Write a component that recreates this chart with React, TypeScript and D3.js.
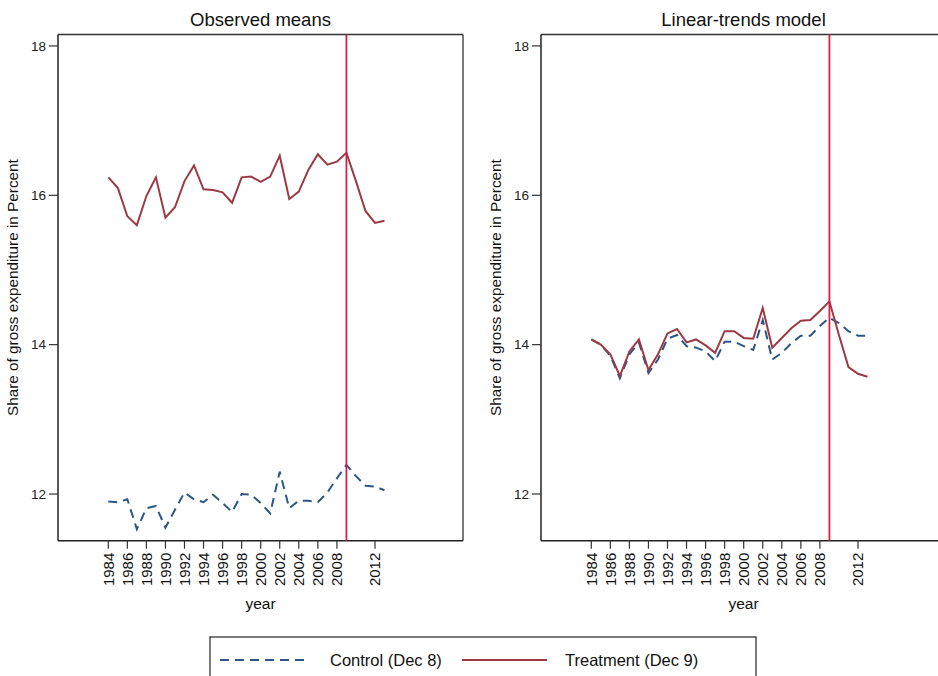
import React from "react";
import * as d3 from "d3";

const years = d3.range(1984, 2014);
const xTickYears = [1984, 1986, 1988, 1990, 1992, 1994, 1996, 1998, 2000, 2002, 2004, 2006, 2008, 2012];
const yTicks = [12, 14, 16, 18];
const policyYear = 2009;

const obsTreatment = [16.24, 16.10, 15.72, 15.60, 15.99, 16.24, 15.70, 15.84, 16.19, 16.40, 16.08, 16.07, 16.04, 15.90, 16.24, 16.25, 16.18, 16.25, 16.53, 15.95, 16.05, 16.34, 16.55, 16.41, 16.45, 16.57, 16.19, 15.79, 15.63, 15.66];
const obsControl = [11.90, 11.89, 11.93, 11.53, 11.81, 11.84, 11.55, 11.79, 12.02, 11.93, 11.89, 11.99, 11.88, 11.76, 12.00, 11.99, 11.88, 11.74, 12.30, 11.81, 11.91, 11.91, 11.89, 12.02, 12.21, 12.39, 12.24, 12.11, 12.10, 12.05];
const ltTreatment = [14.07, 14.00, 13.87, 13.58, 13.91, 14.07, 13.66, 13.87, 14.15, 14.21, 14.03, 14.07, 13.99, 13.89, 14.18, 14.18, 14.09, 14.08, 14.49, 13.96, 14.09, 14.22, 14.32, 14.33, 14.45, 14.58, 14.13, 13.70, 13.61, 13.57];
const ltControl = [14.07, 14.00, 13.85, 13.55, 13.87, 14.03, 13.62, 13.80, 14.08, 14.13, 13.98, 13.96, 13.91, 13.78, 14.04, 14.04, 13.98, 13.93, 14.33, 13.80, 13.89, 14.02, 14.12, 14.12, 14.25, 14.36, 14.29, 14.18, 14.12, 14.12];

const panelTitles = ["Observed means", "Linear-trends model"];
const yTitle = "Share of gross expenditure in Percent";
const xTitle = "year";
const legendLabels = ["Control (Dec 8)", "Treatment (Dec 9)"];

const FONT = "'Liberation Sans', Arial, Helvetica, sans-serif";
const C_TREAT = "#9c3a44";
const C_CTRL = "#2b5782";
const C_VLINE = "#d81f4c";

const TOP = 34.5;
const BOTTOM = 540.7;
const W = 405;

function Panel({ left, title, treat, ctrl }: { left: number; title: string; treat: number[]; ctrl: number[] }) {
  const x = d3.scaleLinear().domain([1978.72, 2021.24]).range([left, left + W]);
  const y = d3.scaleLinear().domain([11.375, 18.153]).range([BOTTOM, TOP]);
  const line = d3
    .line<number>()
    .x((_, i) => x(years[i]))
    .y((d) => y(d));
  const cx = left + W / 2;
  return (
    <g>
      <text x={cx} y={26} textAnchor="middle" fontSize={18.5} fontFamily={FONT} fill="#111">
        {title}
      </text>
      <line x1={left + W} x2={left + W} y1={TOP} y2={BOTTOM} stroke="#7a7a7a" strokeWidth={2} />
      <line x1={left} x2={left + W} y1={TOP} y2={TOP} stroke="#333" strokeWidth={1.5} />
      <line x1={left} x2={left + W} y1={BOTTOM} y2={BOTTOM} stroke="#222" strokeWidth={1.5} />
      <line x1={left} x2={left} y1={TOP} y2={BOTTOM} stroke="#222" strokeWidth={1.5} />
      {yTicks.map((t) => (
        <g key={t}>
          <line x1={left - 9} x2={left} y1={y(t)} y2={y(t)} stroke="#333" strokeWidth={1.2} />
          <text x={left - 12} y={y(t)} dy="0.35em" textAnchor="end" fontSize={13.5} fontFamily={FONT} fill="#222">
            {t}
          </text>
        </g>
      ))}
      {xTickYears.map((t) => (
        <g key={t}>
          <line x1={x(t)} x2={x(t)} y1={BOTTOM} y2={BOTTOM + 8} stroke="#333" strokeWidth={1.2} />
          <text
            transform={`translate(${x(t)},${BOTTOM + 12}) rotate(-90)`}
            dy="0.36em"
            textAnchor="end"
            fontSize={15}
            fontFamily={FONT}
            fill="#111"
          >
            {t}
          </text>
        </g>
      ))}
      <text x={cx} y={609} textAnchor="middle" fontSize={15.5} fontFamily={FONT} fill="#111">
        {xTitle}
      </text>
      <text
        transform={`translate(${left - 40},${(TOP + BOTTOM) / 2}) rotate(-90)`}
        textAnchor="middle"
        fontSize={15.3}
        fontFamily={FONT}
        fill="#111"
      >
        {yTitle}
      </text>
      <path d={line(ctrl) || ""} fill="none" stroke={C_CTRL} strokeWidth={2} strokeDasharray="9,6" />
      <path d={line(treat) || ""} fill="none" stroke={C_TREAT} strokeWidth={2} />
      <line x1={x(policyYear)} x2={x(policyYear)} y1={TOP} y2={BOTTOM} stroke={C_VLINE} strokeWidth={1.8} />
    </g>
  );
}

export default function App() {
  return (
    <svg
      width={938}
      height={676}
      style={{ position: "absolute", left: 0, top: 0, background: "#fff", overflow: "hidden" }}
    >
      <rect x={0} y={0} width={938} height={676} fill="#fff" />
      <Panel left={58} title={panelTitles[0]} treat={obsTreatment} ctrl={obsControl} />
      <Panel left={541} title={panelTitles[1]} treat={ltTreatment} ctrl={ltControl} />
      <g>
        <rect x={210} y={637} width={546} height={60} fill="#fff" stroke="#333" strokeWidth={1.3} />
        <line x1={220} x2={308} y1={660} y2={660} stroke={C_CTRL} strokeWidth={2} strokeDasharray="9,6" />
        <text x={330} y={666} fontSize={16.5} fontFamily={FONT} fill="#111">
          {legendLabels[0]}
        </text>
        <line x1={462} x2={547} y1={660} y2={660} stroke={C_TREAT} strokeWidth={2} />
        <text x={565} y={666} fontSize={16.5} fontFamily={FONT} fill="#111">
          {legendLabels[1]}
        </text>
      </g>
    </svg>
  );
}
